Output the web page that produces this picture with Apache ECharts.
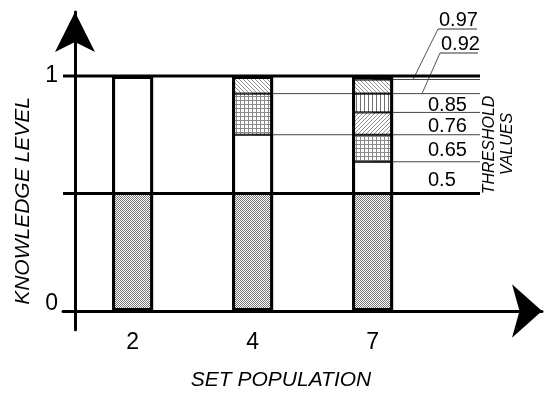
<!DOCTYPE html>
<html><head><meta charset="utf-8">
<script src="https://cdn.jsdelivr.net/npm/echarts@6/dist/echarts.min.js"></script>
<style>html,body{margin:0;padding:0;background:#fff}#c{width:550px;height:396px}</style>
</head><body><div id="c"></div>
<script>
// ---- data ----
const categories = ['2', '4', '7'];
// stacked segment heights per bar (bottom to top)
const dotted    = [0.5, 0.5, 0.5];
const plain     = [0.5, 0.25, 0.135];
const gridHatch = [null, 0.175, 0.115];
const diagLow   = [null, null, 0.095];
const vertHatch = [null, null, 0.08];
const diagHigh  = [null, 0.075, 0.06];
const solidTop  = [null, null, 0.015];
const thresholdLabels = ['0.97', '0.92', '0.85', '0.76', '0.65', '0.5'];
const thresholdLevels = [0.985, 0.925, 0.845, 0.75, 0.635, 0.5];
const thresholdFromBar = [2, 1, 2, 1, 2, -1];
const fullLevels = [1, 0.5];
const yTickValues = [0, 1];
const xTitle = 'SET POPULATION';
const yTitle = 'KNOWLEDGE LEVEL';
const sideTitle = ['THRESHOLD', 'VALUES'];

// ---- styles ----
const FONT = "'Liberation Sans', Arial, Helvetica, sans-serif";
function pat(w, h, draw) {
  const c = document.createElement('canvas'); c.width = w; c.height = h;
  const g = c.getContext('2d'); g.fillStyle = '#fff'; g.fillRect(0, 0, w, h); draw(g);
  return { image: c, repeat: 'repeat' };
}
const pDots = pat(2, 2, g => { g.fillStyle = '#7a7a7a'; g.fillRect(0, 0, 1, 1); g.fillRect(1, 1, 1, 1); });
const pGrid = pat(4, 4, g => { g.fillStyle = '#8a8a8a'; g.fillRect(0, 0, 4, 1); g.fillRect(0, 0, 1, 4); });
const pDiagA = pat(4, 4, g => { g.fillStyle = '#909090'; for (let i = 0; i < 4; i++) g.fillRect(i, i, 1, 1); });
const pDiagB = pat(4, 4, g => { g.fillStyle = '#909090'; for (let i = 0; i < 4; i++) g.fillRect(3 - i, i, 1, 1); });
const pVert = pat(4, 1, g => { g.fillStyle = '#707070'; g.fillRect(0, 0, 1, 1); });

const xMin = -0.1, xMax = 3.8917, yMin = -0.08, yMax = 1.2723;
const lineEnd = 3.375;
const barPos = i => i + 0.48;
const gridV = { top: 12, bottom: 66.2 };

const chart = echarts.init(document.getElementById('c'), null, { renderer: 'canvas' });

const segDefs = [[dotted, pDots], [plain, '#fff'], [gridHatch, pGrid], [diagLow, pDiagB],
                 [vertHatch, pVert], [diagHigh, pDiagA], [solidTop, '#000']];
const series = [];
segDefs.forEach(([d, c]) => series.push({
  type: 'bar', xAxisIndex: 1, yAxisIndex: 1, stack: 'k', barWidth: 41, barGap: '-100%',
  data: d, itemStyle: { color: c, borderColor: '#000', borderWidth: 1 }, z: 2, silent: true
}));
const totals = categories.map((_, i) => segDefs.reduce((s, [d]) => s + (d[i] || 0), 0));
series.push({
  type: 'bar', xAxisIndex: 1, yAxisIndex: 1, barWidth: 41, barGap: '-100%', data: totals,
  itemStyle: { color: 'rgba(0,0,0,0)', borderColor: '#000', borderWidth: 3 }, z: 4, silent: true
});
// threshold lines
thresholdLevels.forEach((lv, k) => {
  const full = fullLevels.indexOf(lv) >= 0;
  const x0 = thresholdFromBar[k] < 0 ? xMin : barPos(thresholdFromBar[k]);
  series.push({
    type: 'line', xAxisIndex: 0, yAxisIndex: 0, symbol: 'none', silent: true, clip: false,
    data: [[x0, lv], [lineEnd, lv]], z: full ? 5 : 1,
    lineStyle: { color: full ? '#000' : '#444', width: full ? 3 : 1 }
  });
});
fullLevels.forEach(lv => {
  if (thresholdLevels.indexOf(lv) >= 0) return;
  series.push({
    type: 'line', xAxisIndex: 0, yAxisIndex: 0, symbol: 'none', silent: true, clip: false,
    data: [[xMin, lv], [lineEnd, lv]], z: 5, lineStyle: { color: '#000', width: 3 }
  });
});

chart.setOption({
  animation: false,
  backgroundColor: '#fff',
  grid: [
    { left: 63, right: 8, top: gridV.top, bottom: gridV.bottom },
    { left: 72.6, right: 117.4, top: gridV.top, bottom: gridV.bottom }
  ],
  xAxis: [
    { type: 'value', gridIndex: 0, min: xMin, max: xMax,
      axisLine: { show: true, onZero: true, symbol: ['none', 'arrow'], symbolSize: [40, 30], lineStyle: { color: '#000', width: 3 } },
      axisTick: { show: false }, axisLabel: { show: false }, splitLine: { show: false } },
    { type: 'category', gridIndex: 1, data: categories, boundaryGap: true,
      axisLine: { show: false, onZero: false }, axisTick: { show: false }, splitLine: { show: false },
      axisLabel: { fontSize: 23, color: '#000', fontFamily: FONT, margin: 1 } }
  ],
  yAxis: [
    { type: 'value', gridIndex: 0, min: yMin, max: yMax,
      axisLine: { show: true, onZero: true, symbol: ['none', 'arrow'], symbolSize: [30, 40], lineStyle: { color: '#000', width: 3 } },
      axisTick: { show: false }, splitLine: { show: false },
      axisLabel: { customValues: yTickValues, margin: 5, color: '#000',
        formatter: v => (Math.abs(v) < 1e-9 ? '{z|0}' : '{o|' + v + '}'),
        rich: { z: { fontSize: 23, fontFamily: FONT, color: '#000', padding: [0, 0, 14, 0] },
                o: { fontSize: 23, fontFamily: FONT, color: '#000' } } } },
    { type: 'value', gridIndex: 1, min: yMin, max: yMax, show: false, splitLine: { show: false } }
  ],
  series: series
});

// ---- annotations ----
const px = (x, y) => chart.convertToPixel({ xAxisIndex: 0, yAxisIndex: 0 }, [x, y]);
const g = [];
const txt = (t, x, y, opt) => g.push(Object.assign({ type: 'text', x: x, y: y, silent: true,
  style: Object.assign({ text: t, fill: '#000', font: (opt.font || '20px') + ' ' + FONT, align: opt.align || 'center', verticalAlign: 'middle' }) }, opt.extra || {}));
const ln = (x1, y1, x2, y2, w, c) => g.push({ type: 'line', silent: true, shape: { x1, y1, x2, y2 }, style: { stroke: c || '#444', lineWidth: w || 1 } });

// labels sitting between lines (0.85 .. 0.5)
for (let k = 2; k < thresholdLevels.length; k++) {
  const yA = px(0, thresholdLevels[k - 1])[1], yB = px(0, thresholdLevels[k])[1];
  txt(thresholdLabels[k], 428, (yA + yB) / 2 + 2.5, { align: 'left' });
}
// labels with leaders (0.97, 0.92)
const leaders = [{ tx: 439, ty: 20, ux1: 438, ux2: 477, uy: 29, lx: 413 },
                 { tx: 441, ty: 44.5, ux1: 440, ux2: 478, uy: 53, lx: 422 }];
leaders.forEach((L, k) => {
  txt(thresholdLabels[k], L.tx, L.ty, { align: 'left' });
  ln(L.ux1, L.uy, L.ux2, L.uy, 1, '#333');
  ln(L.ux1, L.uy, L.lx, px(0, thresholdLevels[k])[1], 1, '#555');
});
// titles
txt(xTitle, 281, 380, { font: 'italic 21px' });
txt(yTitle, 23, 201, { font: 'italic 21px', extra: { rotation: Math.PI / 2 } });
txt(sideTitle[0], 490, 145, { font: 'italic 16px', extra: { rotation: Math.PI / 2 } });
txt(sideTitle[1], 508, 144, { font: 'italic 16px', extra: { rotation: Math.PI / 2 } });

chart.setOption({ graphic: { elements: g } });
</script>
</body></html>
